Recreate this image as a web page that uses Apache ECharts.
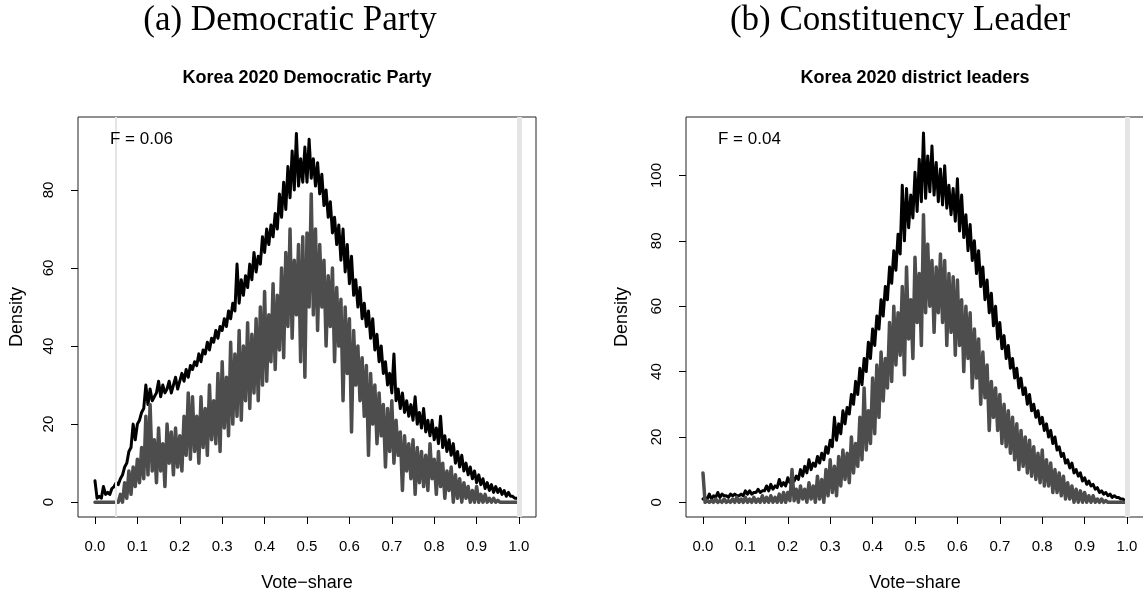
<!DOCTYPE html>
<html><head><meta charset="utf-8">
<script src="https://cdn.jsdelivr.net/npm/echarts@6/dist/echarts.min.js"></script>
<style>html,body{margin:0;padding:0;background:#fff}#c{width:1143px;height:596px}</style>
</head><body><div id="c"></div>
<script>
// ---- data ----
const xStep = 0.005; // grid spacing of the density estimates (0 .. 1)
const xTicks = [0, 0.1, 0.2, 0.3, 0.4, 0.5, 0.6, 0.7, 0.8, 0.9, 1.0];
const yTicksDP = [0, 20, 40, 60, 80];
const yTicksDL = [0, 20, 40, 60, 80, 100];

// (a) Democratic Party, black density
const dpBlack = [
  5.5, 1, 1.5, 1, 4, 2, 2.5, 2, 3.5, 4,
  5, 4.5, 6, 7, 9, 10, 13, 14, 20, 16,
  20, 21, 23, 24, 30, 25, 29, 26, 27, 28,
  31, 27, 30, 28, 29, 31, 28, 30, 32, 29,
  31, 33, 31, 34, 32, 35, 34, 36, 35, 38,
  36, 39, 38, 41, 39, 42, 41, 44, 42, 45,
  44, 47, 45, 49, 47, 51, 49, 61, 51, 57,
  53, 58, 55, 61, 57, 64, 59, 63, 61, 68,
  64, 70, 66, 71, 68, 74, 70, 79, 73, 82,
  75, 86, 78, 90, 80, 94.5, 81, 88, 82, 91,
  82, 93, 83, 88, 81, 87, 79, 84, 76, 80,
  73, 77, 69, 73, 66, 71, 62, 70, 59, 66,
  56, 63, 53, 57, 50, 55, 47, 51, 45, 49,
  42, 47, 39, 43, 36, 40, 33, 36, 30, 33,
  28, 38, 26, 29, 24, 28, 23, 26, 22, 25,
  21, 27, 20, 23, 19, 24, 18, 21, 17, 21,
  16, 19, 15, 22, 14, 17, 13, 16, 12, 15,
  10, 13, 9, 12, 8, 10, 7, 9, 6, 8,
  5, 7, 4.5, 6, 3.5, 5, 3, 4.5, 2.5, 4,
  2.5, 3.5, 2, 3, 1.5, 2.5, 1.5, 1.5, 1, 1,
  0.5
];
// (a) Democratic Party, gray density
const dpGray = [
  0, 0, 0, 0, 0, 0, 0, 0, 0, 0,
  0, 0, 2, 0, 5, 1, 8, 2, 9, 4,
  11, 5, 14, 6, 22, 7, 25, 8, 16, 5,
  19, 8, 15, 4, 20, 10, 18, 7, 19, 9,
  17, 8, 22, 12, 28, 11, 27, 13, 22, 10,
  27, 14, 24, 12, 30, 16, 26, 15, 33, 13,
  36, 19, 32, 17, 41, 20, 38, 22, 44, 21,
  40, 26, 46, 24, 43, 28, 47, 26, 50, 30,
  54, 31, 48, 36, 56, 34, 53, 39, 60, 37,
  64, 45, 70, 42, 62, 48, 66, 36, 68, 32,
  69, 50, 79, 48, 70, 44, 66, 50, 62, 40,
  58, 45, 60, 36, 55, 40, 52, 26, 50, 33,
  47, 18, 44, 30, 40, 26, 37, 22, 35, 12,
  33, 20, 30, 15, 28, 17, 25, 9, 24, 13,
  26, 10, 21, 12, 18, 3, 17, 8, 15, 6,
  16, 2, 14, 5, 13, 4, 12, 3, 15, 6,
  11, 2, 13, 4, 10, 1, 8, 3, 9, 0,
  7, 1, 6, 0, 5, 1, 4, 0, 3, 0,
  4, 0, 2, 0, 2, 0, 1, 0, 1, 0,
  0.5, 0, 0, 0, 0, 0, 0, 0, 0, 0,
  0
];
const dpGrayEndSpike = 20;

// (b) Constituency Leader, black density
const dlBlack = [
  1, 1.5, 1, 2.5, 1, 2, 1.5, 3, 1.5, 2.5,
  2, 2, 1.5, 2.5, 2, 2.5, 2, 2, 2.5, 2,
  3.5, 2.5, 3.5, 2.5, 3, 3, 4, 3, 3.5, 3.5,
  5, 3.5, 5.5, 4, 5, 4.5, 7, 5, 6, 5,
  7.5, 6, 8, 6.5, 8, 7, 10, 8, 11, 9,
  13, 10, 12, 11, 14, 12, 15, 13, 17, 15,
  19, 17, 26, 19, 24, 21, 28, 24, 29, 27,
  33, 30, 37, 33, 41, 36, 44, 40, 49, 44,
  53, 48, 57, 53, 62, 57, 66, 62, 72, 67,
  77, 71, 82, 76, 97, 80, 96, 84, 94, 87,
  101, 89, 105, 92, 113, 93, 106, 95, 109, 94,
  104, 92, 102, 91, 103, 90, 97, 88, 96, 86,
  99, 83, 94, 81, 88, 77, 85, 74, 80, 70,
  77, 66, 72, 62, 68, 58, 64, 54, 60, 50,
  55, 47, 51, 44, 48, 41, 44, 38, 41, 35,
  38, 33, 35, 30, 33, 28, 30, 26, 28, 24,
  26, 22, 24, 20, 22, 18, 20, 16, 17, 14,
  15, 12, 13, 10.5, 12, 9, 10, 8, 9, 6.5,
  7.5, 5.5, 6.5, 5, 5.5, 4, 4.5, 3, 3.5, 2.5,
  3, 2, 2.5, 1.5, 2, 1.5, 1.5, 1, 1, 0.5,
  0.5
];
// (b) Constituency Leader, gray density
const dlGray = [
  9, 0, 0.5, 0, 0.5, 0, 1, 0, 0.5, 0,
  1, 0, 0.5, 0, 1, 0, 1.5, 0, 1, 0,
  1.5, 0, 1, 0, 1.5, 0, 1, 0, 2, 0,
  1.5, 0, 2, 0, 1.5, 0, 2.5, 0, 3, 0,
  3, 0.5, 10, 0.5, 4, 0, 5, 1, 4, 0,
  6, 1, 5, 0, 8, 1, 7, 0, 10, 2,
  13, 3, 11, 2, 14, 5, 16, 7, 15, 6,
  20, 9, 18, 11, 26, 13, 35, 16, 28, 18,
  38, 21, 42, 26, 46, 31, 44, 35, 55, 37,
  60, 42, 58, 45, 66, 39, 72, 50, 62, 44,
  75, 55, 70, 48, 88, 58, 79, 60, 74, 52,
  72, 58, 76, 55, 74, 48, 70, 52, 69, 45,
  68, 48, 62, 40, 60, 44, 58, 35, 53, 38,
  50, 30, 46, 32, 42, 22, 37, 26, 35, 22,
  33, 18, 30, 17, 28, 15, 26, 13, 24, 10,
  22, 11, 20, 9, 19, 8, 17, 7, 15, 6,
  16, 5, 13, 5, 12, 3, 10, 3, 9, 2,
  8, 1, 6, 1, 5, 0, 4, 0, 3.5, 0,
  3, 0, 2, 0, 2, 0, 1, 0, 1, 0,
  0.5, 0, 0, 0, 0, 0, 0, 0, 0, 0,
  0
];
const dlGrayEndSpike = 16.5;

// reference lines
const dpThinLineX = 0.047;
const endLineX = 1.0;

// ---- build ----
function pairs(vals) { return vals.map((v, i) => [+(i * xStep).toFixed(3), v]); }

const SANS = 'Liberation Sans, Arial, Helvetica, sans-serif';
const BLACK = '#000000', GRAY = '#4d4d4d', LIGHT = '#e5e5e5';

function xAxisCfg(idx) {
  return {
    gridIndex: idx, type: 'value', min: -0.04, max: 1.04,
    axisLine: { show: false, onZero: false }, splitLine: { show: false },
    axisTick: { show: true, inside: false, length: 7, customValues: xTicks, lineStyle: { color: '#000', width: 1 } },
    axisLabel: { customValues: xTicks, formatter: v => v.toFixed(1), margin: 22, fontSize: 15, color: '#000', fontFamily: SANS },
    name: 'Vote\u2212share', nameLocation: 'middle', nameGap: 57,
    nameTextStyle: { fontSize: 18, color: '#000', fontFamily: SANS, verticalAlign: 'top' }
  };
}
function yAxisCfg(idx, min, max, ticks, gap) {
  return {
    gridIndex: idx, type: 'value', min: min, max: max,
    axisLine: { show: false, onZero: false }, splitLine: { show: false },
    axisTick: { show: true, inside: false, length: 7, customValues: ticks, lineStyle: { color: '#000', width: 1 } },
    axisLabel: { customValues: ticks, rotate: 90, margin: 22, fontSize: 15, color: '#000', fontFamily: SANS },
    name: 'Density', nameLocation: 'middle', nameGap: gap, nameRotate: 90,
    nameTextStyle: { fontSize: 18, color: '#000', fontFamily: SANS }
  };
}
function refSeries(idx, xs) {
  return {
    type: 'line', xAxisIndex: idx, yAxisIndex: idx, data: [], z: 1, silent: true,
    markLine: {
      silent: true, symbol: ['none', 'none'], label: { show: false }, animation: false,
      data: xs.map(o => ({ xAxis: o.x, lineStyle: { color: LIGHT, width: o.w, type: 'solid' } }))
    }
  };
}
function lineSeries(idx, data, color, width, z) {
  return {
    type: 'line', xAxisIndex: idx, yAxisIndex: idx, data: data, showSymbol: false, symbol: 'none',
    z: z, silent: true, lineStyle: { color: color, width: width, join: 'round', cap: 'round' }
  };
}

const chart = echarts.init(document.getElementById('c'), null, { renderer: 'canvas' });
chart.setOption({
  animation: false,
  backgroundColor: '#ffffff',
  title: [
    { text: '(a) Democratic Party', left: 290, top: 3, textAlign: 'center', padding: 0,
      textStyle: { fontFamily: 'Liberation Serif, serif', fontWeight: 'normal', fontSize: 35, color: '#000' } },
    { text: '(b) Constituency Leader', left: 900, top: 3, textAlign: 'center', padding: 0,
      textStyle: { fontFamily: 'Liberation Serif, serif', fontWeight: 'normal', fontSize: 35, color: '#000' } },
    { text: 'Korea 2020 Democratic Party', left: 307, top: 69, textAlign: 'center', padding: 0,
      textStyle: { fontFamily: SANS, fontWeight: 'bold', fontSize: 18, color: '#000' } },
    { text: 'Korea 2020 district leaders', left: 915, top: 69, textAlign: 'center', padding: 0,
      textStyle: { fontFamily: SANS, fontWeight: 'bold', fontSize: 18, color: '#000' } },
    { text: 'F = 0.06', left: 110, top: 131, padding: 0,
      textStyle: { fontFamily: SANS, fontWeight: 'normal', fontSize: 17, color: '#000' } },
    { text: 'F = 0.04', left: 718, top: 131, padding: 0,
      textStyle: { fontFamily: SANS, fontWeight: 'normal', fontSize: 17, color: '#000' } }
  ],
  grid: [
    { left: 78, top: 117, width: 458, height: 400, show: true, borderColor: '#222', borderWidth: 1, backgroundColor: 'transparent', containLabel: false, outerBoundsMode: 'none' },
    { left: 686, top: 117, width: 458, height: 400, show: true, borderColor: '#222', borderWidth: 1, backgroundColor: 'transparent', containLabel: false, outerBoundsMode: 'none' }
  ],
  xAxis: [xAxisCfg(0), xAxisCfg(1)],
  yAxis: [yAxisCfg(0, -3.8, 98.7, yTicksDP, 52), yAxisCfg(1, -4.5, 117.9, yTicksDL, 55)],
  series: [
    refSeries(0, [{ x: dpThinLineX, w: 2 }, { x: endLineX, w: 5 }]),
    refSeries(1, [{ x: endLineX, w: 5 }]),
    lineSeries(0, pairs(dpBlack), BLACK, 3, 2),
    lineSeries(0, pairs(dpGray).concat([[endLineX, dpGrayEndSpike]]), GRAY, 3.5, 3),
    lineSeries(1, pairs(dlBlack), BLACK, 3, 2),
    lineSeries(1, pairs(dlGray).concat([[endLineX, dlGrayEndSpike]]), GRAY, 3.5, 3)
  ]
});
</script>
</body></html>
